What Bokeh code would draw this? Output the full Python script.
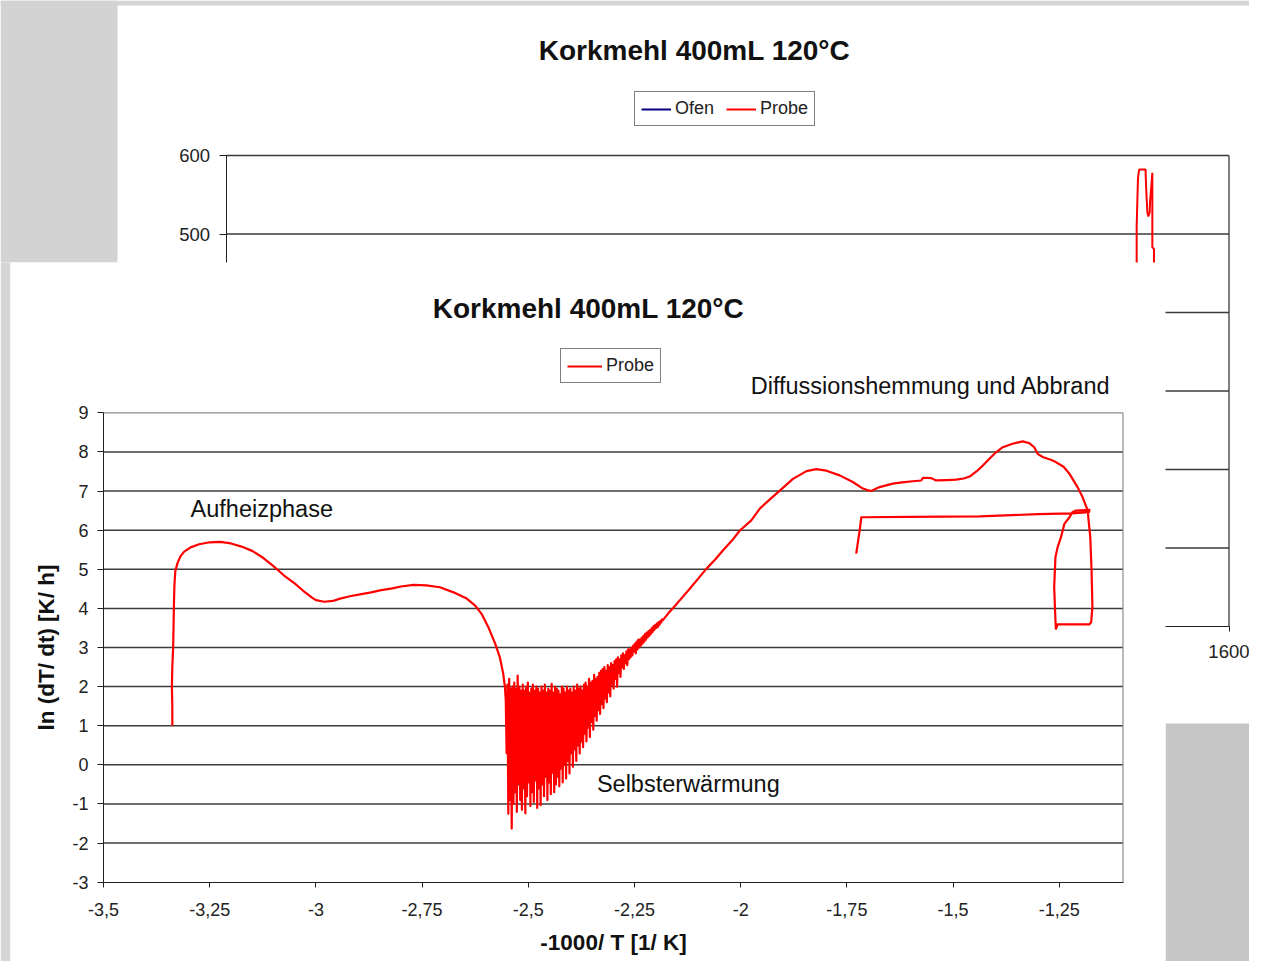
from bokeh.plotting import figure
from bokeh.models import (Range1d, LinearAxis, FixedTicker, CustomJSTickFormatter,
                          BoxAnnotation, Label, Legend, LegendItem)
from bokeh.embed import file_html
from bokeh.resources import INLINE

# ------------------------------------------------------------------
# DATA
# ------------------------------------------------------------------
# Foreground chart: ln(dT/dt) [K/h] over -1000/T [1/K], series "Probe"
heat_x = [-3.338, -3.338, -3.339, -3.338, -3.336, -3.335, -3.334, -3.333, -3.331, -3.326,
          -3.319, -3.310, -3.295, -3.275, -3.250, -3.225, -3.200, -3.175, -3.150, -3.125,
          -3.100, -3.075, -3.050, -3.030, -3.010, -3.000, -2.980, -2.960, -2.943, -2.920,
          -2.896, -2.870, -2.849, -2.820, -2.800, -2.770, -2.740, -2.708, -2.676, -2.645,
          -2.625, -2.610, -2.594, -2.578, -2.567, -2.559, -2.555, -2.553]
heat_y = [1.00, 1.50, 2.00, 2.50, 3.00, 3.60, 4.20, 4.60, 4.95, 5.15,
          5.33, 5.45, 5.56, 5.64, 5.69, 5.70, 5.66, 5.58, 5.47, 5.30,
          5.08, 4.84, 4.64, 4.45, 4.28, 4.21, 4.17, 4.19, 4.25, 4.31,
          4.36, 4.41, 4.46, 4.51, 4.56, 4.60, 4.59, 4.54, 4.41, 4.25,
          4.07, 3.86, 3.52, 3.10, 2.75, 2.33, 1.99, 1.65]

noise_x = [-2.551, -2.549, -2.547, -2.545, -2.543, -2.541, -2.539, -2.537, -2.535, -2.533,
           -2.531, -2.529, -2.527, -2.525, -2.523, -2.521, -2.519, -2.517, -2.515, -2.513,
           -2.511, -2.509, -2.507, -2.505, -2.503, -2.501, -2.499, -2.497, -2.495, -2.493,
           -2.491, -2.489, -2.487, -2.485, -2.483, -2.481, -2.479, -2.477, -2.475, -2.473,
           -2.471, -2.469, -2.467, -2.465, -2.463, -2.461, -2.459, -2.457, -2.455, -2.453,
           -2.451, -2.449, -2.447, -2.445, -2.443, -2.441, -2.439, -2.437, -2.435, -2.433,
           -2.431, -2.429, -2.427, -2.425, -2.423, -2.421, -2.419, -2.417, -2.415, -2.413,
           -2.411, -2.409, -2.407, -2.405, -2.403, -2.401, -2.399, -2.397, -2.395, -2.393,
           -2.391, -2.389, -2.387, -2.385, -2.383, -2.381, -2.379, -2.377, -2.375, -2.373,
           -2.371, -2.369, -2.367, -2.365, -2.363, -2.361, -2.359, -2.357, -2.355, -2.353,
           -2.351, -2.349, -2.347, -2.345, -2.343, -2.341, -2.339, -2.337, -2.335, -2.333,
           -2.331, -2.329, -2.327, -2.325, -2.323, -2.321, -2.319, -2.317, -2.315, -2.313,
           -2.311, -2.309, -2.307, -2.305, -2.303, -2.301, -2.299, -2.297, -2.295, -2.293,
           -2.291, -2.289, -2.287, -2.285, -2.283, -2.281, -2.279, -2.277, -2.275, -2.273,
           -2.271, -2.269, -2.267, -2.265, -2.263, -2.261, -2.259, -2.257, -2.255, -2.253,
           -2.251, -2.249, -2.247, -2.245, -2.243, -2.241, -2.239, -2.237, -2.235, -2.233,
           -2.231, -2.229, -2.227, -2.225, -2.223, -2.221, -2.219, -2.217, -2.215, -2.213,
           -2.211, -2.209, -2.207, -2.205, -2.203, -2.201, -2.199, -2.197, -2.195, -2.193,
           -2.191, -2.189, -2.187, -2.185, -2.183]
noise_y = [0.30, 2.05, -1.25, 2.20, -0.90, 1.95, -1.63, 2.00, -1.00, 2.10,
           -0.70, 1.95, -1.20, 2.28, -0.50, 2.00, -0.90, 1.90, -1.15, 2.05,
           -0.60, 1.90, -1.24, 2.00, -0.80, 2.10, -0.45, 1.85, -1.05, 1.95,
           -0.70, 2.05, -0.95, 1.90, -0.40, 2.00, -1.10, 1.95, -0.60, 1.85,
           -1.03, 2.00, -0.50, 1.90, -0.80, 2.05, -0.30, 1.85, -0.90, 1.95,
           -0.45, 1.90, -0.75, 2.07, -0.20, 1.85, -0.70, 2.00, -0.50, 1.95,
           -0.30, 1.90, -0.55, 1.80, -0.10, 2.00, -0.45, 1.95, 0.00, 1.85,
           -0.35, 2.00, 0.10, 1.90, -0.22, 1.95, 0.30, 1.85, -0.05, 2.00,
           0.40, 1.90, 0.10, 2.05, 0.50, 1.95, 0.29, 2.00, 0.60, 1.90,
           0.45, 2.05, 0.80, 2.10, 0.60, 2.00, 0.95, 2.20, 0.71, 2.10,
           1.10, 2.15, 0.90, 2.30, 1.25, 2.20, 1.13, 2.25, 1.40, 2.35,
           1.30, 2.40, 1.55, 2.45, 1.45, 2.50, 1.70, 2.40, 1.60, 2.55,
           1.85, 2.50, 1.75, 2.60, 2.05, 2.55, 1.95, 2.65, 2.20, 2.70,
           2.00, 2.75, 2.35, 2.70, 2.25, 2.80, 2.50, 2.85, 2.45, 2.80,
           2.60, 2.90, 2.55, 2.95, 2.70, 2.95, 2.75, 3.00, 2.80, 3.05,
           2.90, 3.10, 2.85, 3.15, 2.95, 3.20, 3.00, 3.20, 3.05, 3.25,
           3.10, 3.30, 3.15, 3.35, 3.20, 3.38, 3.26, 3.42, 3.30, 3.45,
           3.35, 3.50, 3.40, 3.55, 3.45, 3.58, 3.50, 3.62, 3.52, 3.65,
           3.58, 3.68, 3.64, 3.72, 3.70]

burn_x = [-2.170, -2.159, -2.140, -2.120, -2.100, -2.081, -2.060, -2.042, -2.020, -2.002,
          -1.975, -1.955, -1.930, -1.908, -1.877, -1.845, -1.822, -1.798, -1.767, -1.736,
          -1.715, -1.704, -1.693, -1.673, -1.642, -1.620, -1.595, -1.575, -1.571, -1.551,
          -1.540, -1.515, -1.493, -1.475, -1.461, -1.445, -1.430, -1.415, -1.399, -1.383,
          -1.360, -1.336, -1.320, -1.309, -1.301, -1.289, -1.270, -1.258, -1.240, -1.226,
          -1.207, -1.195, -1.183, -1.181, -1.177, -1.174, -1.172, -1.175, -1.179, -1.254,
          -1.258, -1.259, -1.262, -1.259, -1.254, -1.246, -1.238, -1.226, -1.219, -1.211,
          -1.179, -1.180, -1.220, -1.300, -1.438, -1.600, -1.716, -1.720, -1.728]
burn_y = [3.88, 4.01, 4.25, 4.50, 4.76, 5.01, 5.25, 5.48, 5.74, 5.99,
          6.25, 6.55, 6.80, 7.01, 7.31, 7.51, 7.56, 7.52, 7.40, 7.23,
          7.08, 7.03, 7.00, 7.10, 7.19, 7.22, 7.25, 7.27, 7.34, 7.33,
          7.27, 7.28, 7.29, 7.32, 7.37, 7.50, 7.65, 7.82, 7.99, 8.12,
          8.21, 8.27, 8.22, 8.12, 7.95, 7.87, 7.80, 7.74, 7.62, 7.44,
          7.10, 6.84, 6.50, 6.25, 5.82, 4.97, 4.03, 3.65, 3.59, 3.59,
          3.48, 3.69, 4.54, 5.31, 5.56, 5.82, 6.16, 6.33, 6.46, 6.50,
          6.52, 6.46, 6.43, 6.41, 6.35, 6.34, 6.33, 5.99, 5.40]

x_ticks = [-3.5, -3.25, -3.0, -2.75, -2.5, -2.25, -2.0, -1.75, -1.5, -1.25]
y_ticks = [-3, -2, -1, 0, 1, 2, 3, 4, 5, 6, 7, 8, 9]
fg_x_min, fg_x_max = -3.5, -1.1
fg_y_min, fg_y_max = -3, 9

# Background chart (mostly hidden behind the front chart): temperature over time
bg_probe_time = [1452.5, 1452.7, 1452.7, 1454.8, 1456.4, 1457.0, 1467.0, 1467.0, 1468.2,
                 1469.8, 1471.4, 1473.5, 1474.0, 1476.0, 1477.7, 1477.7, 1480.3, 1480.5]
bg_probe_temp = [400, 464, 509.6, 570.7, 580.9, 582.2, 582.2, 577.0, 551.6,
                 527.8, 522.3, 527.8, 540.5, 560.0, 578.0, 483.2, 481.1, 400]
bg_ofen_time = [0, 1450]     # oven held at 120 °C (hidden behind the front chart)
bg_ofen_temp = [120, 120]
bg_y_ticks = [0, 100, 200, 300, 400, 500, 600]
bg_x_ticks = [0, 200, 400, 600, 800, 1000, 1200, 1400, 1600]
bg_x_min, bg_x_max = 0, 1600
bg_y_min, bg_y_max = 0, 600

title_text = "Korkmehl 400mL 120°C"

# ------------------------------------------------------------------
# LAYOUT (pixel positions of the slide)
# ------------------------------------------------------------------
W, H = 1249, 961
FONT = "Liberation Sans"


def sy(py):  # screen y measured from the bottom of the canvas
    return H - py


def span_range(p0, p1, v0, v1, size):
    k = (v1 - v0) / (p1 - p0)
    a = v0 + (0 - p0) * k
    b = v0 + (size - p0) * k
    return Range1d(start=min(a, b), end=max(a, b))


# plot areas in pixels
FG_L, FG_R, FG_T, FG_B = 103.0, 1122.5, 412.3, 881.7
BG_L, BG_R, BG_T, BG_B = 225.5, 1228.5, 155.0, 626.0

p = figure(width=W, height=H,
           x_range=span_range(FG_L, FG_R, fg_x_min, fg_x_max, W),
           y_range=span_range(FG_T, FG_B, fg_y_max, fg_y_min, H),
           x_axis_location=None, y_axis_location=None, title=None,
           min_border=0, toolbar_location=None, output_backend="svg",
           background_fill_color="white", border_fill_color="white",
           outline_line_color=None)
p.grid.visible = False
p.extra_x_ranges = {"bgx": span_range(BG_L, BG_R, bg_x_min, bg_x_max, W)}
p.extra_y_ranges = {"bgy": span_range(BG_T, BG_B, bg_y_max, bg_y_min, H)}

# ---- slide background (gray areas) ----
for (l, r, t, b, col) in [(0, 1265, 0, 5, "#d3d3d3"),
                          (0, 117, 0, 262, "#d3d3d3"),
                          (0, 10, 262, 977, "#d6d6d6"),
                          (1165, 1265, 723, 977, "#c6c6c6")]:
    p.add_layout(BoxAnnotation(left=l, right=r, top=sy(t), bottom=sy(b),
                               left_units="screen", right_units="screen",
                               top_units="screen", bottom_units="screen",
                               fill_color=col, fill_alpha=1.0, line_color=None,
                               level="image"))

# ---- background chart ----
GRID_BG = "#3a3a3a"
p.segment(x0=bg_x_min, x1=bg_x_max, y0=bg_y_ticks[1:], y1=bg_y_ticks[1:],
          x_range_name="bgx", y_range_name="bgy",
          line_color=GRID_BG, line_width=1.3, level="image")
p.segment(x0=[bg_x_max], x1=[bg_x_max], y0=[bg_y_min], y1=[bg_y_max],
          x_range_name="bgx", y_range_name="bgy",
          line_color=GRID_BG, line_width=1.3, level="image")
ofen_r = p.line(bg_ofen_time, bg_ofen_temp, x_range_name="bgx", y_range_name="bgy",
                line_color="#000080", line_width=2, level="image")
bgprobe_r = p.line(bg_probe_time, bg_probe_temp, x_range_name="bgx", y_range_name="bgy",
                   line_color="#ff0000", line_width=2, level="image")

axis_common = dict(major_tick_in=0, minor_tick_line_color=None,
                   major_label_text_font=FONT, major_label_text_color="#222222",
                   axis_line_color="#202020", major_tick_line_color="#202020")
plain_fmt = "return String(tick).replace('.', ',');"

bg_yaxis = LinearAxis(x_range_name="bgx", y_range_name="bgy", fixed_location=bg_x_min,
                      bounds=(bg_y_min, bg_y_max), ticker=FixedTicker(ticks=bg_y_ticks),
                      formatter=CustomJSTickFormatter(code=plain_fmt),
                      major_tick_out=7, major_label_standoff=9,
                      major_label_text_font_size="18.5px", level="image", **axis_common)
p.add_layout(bg_yaxis, "left")
bg_xaxis = LinearAxis(x_range_name="bgx", y_range_name="bgy", fixed_location=bg_y_min,
                      bounds=(bg_x_min, bg_x_max), ticker=FixedTicker(ticks=bg_x_ticks),
                      formatter=CustomJSTickFormatter(code=plain_fmt),
                      major_tick_out=5, major_label_standoff=13,
                      major_label_text_font_size="18.5px", level="image", **axis_common)
p.add_layout(bg_xaxis, "below")

legend_common = dict(border_line_color="black", border_line_width=1,
                     background_fill_color="white", background_fill_alpha=1.0,
                     label_text_font=FONT, label_text_font_size="18px",
                     label_text_color="#222222", label_standoff=4,
                     glyph_height=18, label_height=18, padding=6, margin=0)

p.add_layout(Legend(items=[LegendItem(label="Ofen", renderers=[ofen_r]),
                           LegendItem(label="Probe", renderers=[bgprobe_r])],
                    orientation="horizontal", location=(634, sy(126)),
                    glyph_width=30, spacing=12, **legend_common))
p.add_layout(Label(x=694, y=sy(50), x_units="screen", y_units="screen",
                   text=title_text, text_align="center", text_baseline="middle",
                   text_font=FONT, text_font_size="28px", text_font_style="bold",
                   text_color="#111111"))

# ---- front chart panel ----
p.add_layout(BoxAnnotation(left=10, right=1165, top=sy(262), bottom=sy(977),
                           left_units="screen", right_units="screen",
                           top_units="screen", bottom_units="screen",
                           fill_color="white", fill_alpha=1.0, line_color=None,
                           level="underlay"))

grid_y = [t for t in y_ticks if fg_y_min < t < fg_y_max]
p.segment(x0=fg_x_min, x1=fg_x_max, y0=grid_y, y1=grid_y,
          line_color="#3c3c3c", line_width=1.5)
p.segment(x0=[fg_x_min, fg_x_max], x1=[fg_x_max, fg_x_max],
          y0=[fg_y_max, fg_y_min], y1=[fg_y_max, fg_y_max],
          line_color="#8c8c8c", line_width=1.2)

probe_x = heat_x + noise_x + burn_x
probe_y = heat_y + noise_y + burn_y
probe_r = p.line(probe_x, probe_y, line_color="#ff0000", line_width=2.2,
                 line_join="round")

fg_yaxis = LinearAxis(fixed_location=fg_x_min, bounds=(fg_y_min, fg_y_max),
                      ticker=FixedTicker(ticks=y_ticks),
                      formatter=CustomJSTickFormatter(code=plain_fmt),
                      major_tick_out=6, major_label_standoff=9,
                      major_label_text_font_size="18px",
                      axis_label="ln (dT/ dt) [K/ h]", axis_label_standoff=10,
                      axis_label_text_font=FONT, axis_label_text_font_size="22.5px",
                      axis_label_text_font_style="bold", axis_label_text_color="#111111",
                      **axis_common)
p.add_layout(fg_yaxis, "left")
fg_xaxis = LinearAxis(fixed_location=fg_y_min, bounds=(fg_x_min, fg_x_max),
                      ticker=FixedTicker(ticks=x_ticks),
                      formatter=CustomJSTickFormatter(code=plain_fmt),
                      major_tick_out=5, major_label_standoff=16,
                      major_label_text_font_size="18px",
                      axis_label="-1000/ T [1/ K]", axis_label_standoff=10,
                      axis_label_text_font=FONT, axis_label_text_font_size="22.5px",
                      axis_label_text_font_style="bold", axis_label_text_color="#111111",
                      **axis_common)
p.add_layout(fg_xaxis, "below")

p.add_layout(Legend(items=[LegendItem(label="Probe", renderers=[probe_r])],
                    location=(560, sy(383)), glyph_width=35, spacing=0,
                    **legend_common))
p.add_layout(Label(x=588, y=sy(308), x_units="screen", y_units="screen",
                   text=title_text, text_align="center", text_baseline="middle",
                   text_font=FONT, text_font_size="28px", text_font_style="bold",
                   text_color="#111111"))

for (tx, ty, txt) in [(-3.295, 6.528, "Aufheizphase"),
                      (-2.3385, -0.489, "Selbsterwärmung"),
                      (-1.9764, 9.685, "Diffussionshemmung und Abbrand")]:
    p.add_layout(Label(x=tx, y=ty, text=txt, text_align="left",
                       text_baseline="middle", text_font=FONT,
                       text_font_size="23.5px", text_color="#111111"))

open("out.html", "w").write(file_html(p, INLINE))
